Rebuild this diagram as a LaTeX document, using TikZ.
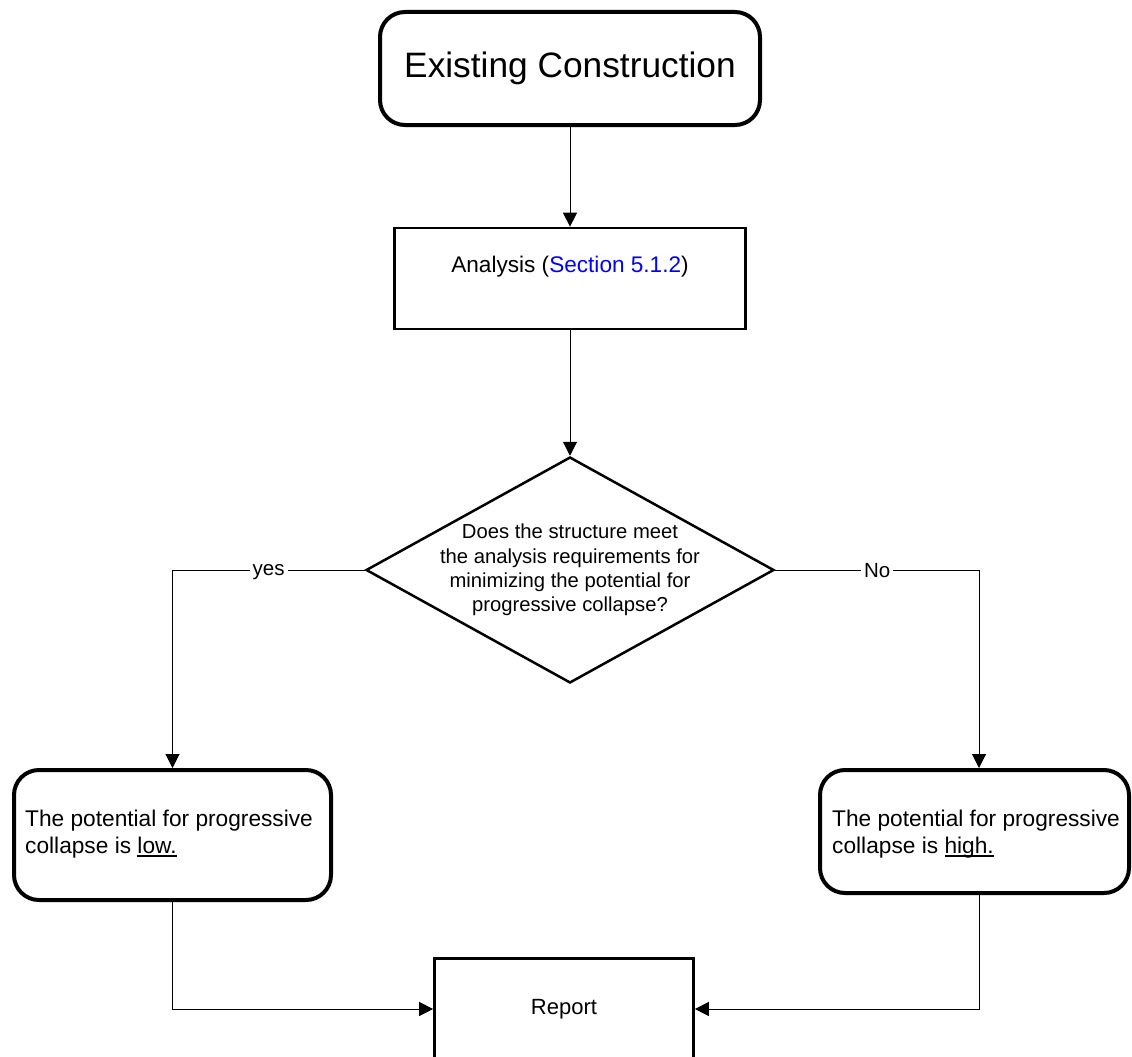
\documentclass[tikz,border=0pt]{standalone}
\usepackage{fontspec}
\setmainfont{Liberation Sans}
\usetikzlibrary{shapes.geometric,arrows.meta}
\newcommand{\myuline}[1]{\setbox0\hbox{#1}\rlap{\rule[-3.4pt]{\wd0}{1.5pt}}\box0}
\tikzset{
  thickbox/.style={draw, line width=4pt, rounded corners=25pt, inner sep=0pt},
  plainbox/.style={draw, line width=2.7pt, inner sep=0pt},
  conn/.style={line width=1pt, -{Triangle[length=14pt,width=14pt]}},
  lab/.style={fill=white, inner xsep=3pt, inner ysep=1pt, text depth=0pt, font=\fontsize{20.5}{24}\selectfont},
  txt/.style={inner sep=0pt},
}
\begin{document}
\begin{tikzpicture}[x=1pt,y=-1pt]
\useasboundingbox (0,0) rectangle (1132,1057);
\clip (0,0) rectangle (1132,1057);

\node[thickbox, minimum width=380pt, minimum height=113pt,
      font=\fontsize{35.3}{42}\selectfont] (top) at (570,68.5) {Existing Construction};

\node[plainbox, minimum width=351pt, minimum height=101pt] (ana) at (570,278.5) {};
\node[txt, font=\fontsize{22.6}{27}\selectfont] (anatext) at (570,267)
  {Analysis (\textcolor{blue}{Section 5.1.2})};

\node[diamond, draw, line width=2.5pt, minimum width=408pt, minimum height=226pt,
      inner sep=0pt] (dia) at (570,570) {};
\node[txt, align=center, font=\fontsize{20.25}{24.3}\selectfont] (dtext) at (570,570)
  {Does the structure meet\\the analysis requirements for\\minimizing the potential for\\progressive collapse?};

\node[thickbox, minimum width=317pt, minimum height=130pt] (low) at (172.5,835) {};
\node[txt, anchor=west, align=left, font=\fontsize{22.7}{26.7}\selectfont] (lowtext) at (25,834)
  {The potential for progressive\\collapse is \myuline{low.}};

\node[thickbox, minimum width=309pt, minimum height=123pt] (high) at (974.5,831.5) {};
\node[txt, anchor=west, align=left, font=\fontsize{22.7}{26.7}\selectfont] (hightext) at (832,834)
  {The potential for progressive\\collapse is \myuline{high.}};

\node[plainbox, minimum width=259pt, minimum height=101pt,
      font=\fontsize{22}{26}\selectfont] (rep) at (564,1009) {Report};

\coordinate (rc) at (979,570);

\draw[conn] (top) -- (ana);
\draw[conn] (ana) -- (dia);
\draw[conn] (dia.west) -| node[lab, pos=0.25] {yes} (low.north);
\draw[conn] (dia.east) -- node[lab] {No} (rc) -- (rc |- high.north);
\draw[conn] (low.south) |- (rep.west);
\draw[conn] (rc |- high.south) |- (rep.east);
\end{tikzpicture}
\end{document}
